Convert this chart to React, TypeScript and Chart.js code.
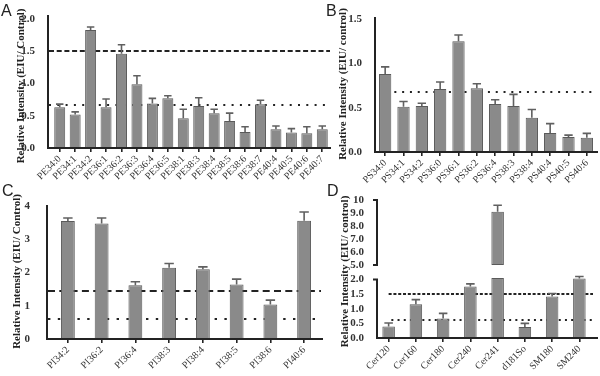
import React, { useEffect, useRef } from 'react';
import { Chart, registerables } from 'chart.js';

Chart.register(...registerables);

// ---------- Panel A : PE ----------
const PE_LABELS = ['PE34:0', 'PE34:1', 'PE34:2', 'PE36:1', 'PE36:2', 'PE36:3', 'PE36:4', 'PE36:5', 'PE38:1', 'PE38:3', 'PE38:4', 'PE38:5', 'PE38:6', 'PE38:7', 'PE40:4', 'PE40:5', 'PE40:6', 'PE40:7'];
const PE_VALUES = [0.63, 0.52, 1.83, 0.63, 1.46, 0.99, 0.69, 0.77, 0.46, 0.65, 0.54, 0.42, 0.25, 0.68, 0.29, 0.24, 0.23, 0.29];
const PE_ERRORS = [0.05, 0.04, 0.045, 0.13, 0.14, 0.13, 0.08, 0.04, 0.14, 0.13, 0.06, 0.12, 0.08, 0.06, 0.05, 0.06, 0.10, 0.05];
const PE_TICKS = [0, 0.5, 1, 1.5, 2];
const PE_UPPER_LINE = 1.5;
const PE_LOWER_LINE = 0.67;

// ---------- Panel B : PS ----------
const PS_LABELS = ['PS34:0', 'PS34:1', 'PS34:2', 'PS36:0', 'PS36:1', 'PS36:2', 'PS36:4', 'PS38:3', 'PS38:4', 'PS40:4', 'PS40:5', 'PS40:6'];
const PS_VALUES = [0.88, 0.51, 0.52, 0.71, 1.25, 0.72, 0.54, 0.52, 0.385, 0.215, 0.17, 0.16];
const PS_ERRORS = [0.08, 0.06, 0.03, 0.08, 0.07, 0.05, 0.05, 0.13, 0.095, 0.105, 0.02, 0.05];
const PS_TICKS = [0, 0.5, 1, 1.5];
const PS_LOWER_LINE = 0.68;

// ---------- Panel C : PI ----------
const PI_LABELS = ['PI34:2', 'PI36:2', 'PI36:4', 'PI38:3', 'PI38:4', 'PI38:5', 'PI38:6', 'PI40:6'];
const PI_VALUES = [3.55, 3.47, 1.62, 2.14, 2.10, 1.64, 1.04, 3.56];
const PI_ERRORS = [0.09, 0.17, 0.10, 0.13, 0.07, 0.16, 0.13, 0.26];
const PI_TICKS = [0, 1, 2, 3, 4];
const PI_UPPER_LINE = 1.44;
const PI_LOWER_LINE = 0.59;

// ---------- Panel D : sphingolipids (broken axis) ----------
const SL_LABELS = ['Cer120', 'Cer160', 'Cer180', 'Cer240', 'Cer241', 'd181So', 'SM180', 'SM240'];
const SL_VALUES = [0.39, 1.15, 0.67, 1.76, 9.1, 0.38, 1.42, 2.03];
const SL_ERRORS = [0.12, 0.16, 0.17, 0.09, 0.5, 0.12, 0.10, 0.07];
const SL_TICKS_LOW = [0, 0.5, 1, 1.5, 2];
const SL_TICKS_HIGH = [5, 6, 7, 8, 9, 10];
const SL_LOW_MAX = 2.05;
const SL_HIGH_MIN = 4;
const SL_HIGH_MAX = 10;
const SL_BREAK = 5;
const SL_UPPER_LINE = 1.52;
const SL_LOWER_LINE = 0.62;

const SERIF = "'Liberation Serif', 'Times New Roman', Times, serif";
const BAR_FILL = '#8a8a8a';
const BAR_EDGE = '#5a5a5a';
const ERR_COLOR = '#606060';
const INK = '#232323';

type LineSpec = { axis: string; value: number; dash: number[]; width: number; startIndex?: number };
type SegSpec = { axis: string; from: number; to: number | null; extend?: number; capTop?: boolean; capBottom?: boolean };
type YAxisSpec = { id: string; min: number; max: number; ticks: number[]; fmt: (v: number) => string; stackWeight?: number; weight?: number };

type PanelCfg = {
  x: number; y: number; w: number; h: number;
  area: { left: number; right: number; top: number; bottom: number };
  labels: string[];
  datasets: any[];
  yAxes: YAxisSpec[];
  tickPad: number;
  lines: LineSpec[];
  segs: SegSpec[];
  axisX: number;
  xEnd: number;
  title: string;
  titleX: number;
  titleY: number;
};

const barStyle = (pct: number) => ({
  backgroundColor: BAR_FILL,
  borderColor: BAR_EDGE,
  borderWidth: 1,
  barPercentage: pct,
  categoryPercentage: 1,
  grouped: false,
});

const fmt1 = (v: number) => v.toFixed(1);

function makeChart(canvas: HTMLCanvasElement, p: PanelCfg) {
  const plugin = {
    id: 'deco',
    beforeDatasetsDraw(chart: any) {
      const { ctx, chartArea } = chart;
      const xs = chart.scales.x;
      p.lines.forEach((ln) => {
        const sc = chart.scales[ln.axis];
        const y = Math.round(sc.getPixelForValue(ln.value));
        const x0 = ln.startIndex != null ? xs.getPixelForValue(ln.startIndex) : p.axisX + 1;
        ctx.save();
        ctx.strokeStyle = INK;
        ctx.lineWidth = ln.width;
        ctx.lineCap = 'butt';
        ctx.setLineDash(ln.dash);
        ctx.beginPath();
        ctx.moveTo(x0, y);
        ctx.lineTo(chartArea.right, y);
        ctx.stroke();
        ctx.restore();
      });
    },
    afterDatasetsDraw(chart: any) {
      const { ctx, chartArea } = chart;
      // error bars (upper half only)
      chart.data.datasets.forEach((ds: any, di: number) => {
        const errs = ds.errors as (number | null)[] | undefined;
        if (!errs) return;
        const meta = chart.getDatasetMeta(di);
        const sc = chart.scales[meta.yAxisID];
        meta.data.forEach((el: any, i: number) => {
          const e = errs[i];
          const raw = ds.data[i];
          if (e == null || raw == null) return;
          const top = Array.isArray(raw) ? raw[1] : raw;
          const yTop = sc.getPixelForValue(top);
          const yErr = sc.getPixelForValue(top + e);
          const half = el.width * 0.34;
          ctx.save();
          ctx.strokeStyle = ERR_COLOR;
          ctx.lineWidth = 1.6;
          ctx.beginPath();
          ctx.moveTo(el.x, yTop);
          ctx.lineTo(el.x, yErr);
          ctx.moveTo(el.x - half, yErr);
          ctx.lineTo(el.x + half, yErr);
          ctx.stroke();
          ctx.restore();
        });
      });
      // axis lines
      ctx.save();
      ctx.strokeStyle = INK;
      ctx.lineWidth = 2;
      ctx.setLineDash([]);
      ctx.beginPath();
      ctx.moveTo(p.axisX - 1, chartArea.bottom);
      ctx.lineTo(p.xEnd, chartArea.bottom);
      ctx.stroke();
      p.segs.forEach((sg) => {
        const sc = chart.scales[sg.axis];
        const yA = sc.getPixelForValue(sg.from) - (sg.extend || 0);
        const yB = sg.to == null ? chartArea.bottom : sc.getPixelForValue(sg.to);
        ctx.beginPath();
        ctx.moveTo(p.axisX, yA);
        ctx.lineTo(p.axisX, yB);
        if (sg.capTop) {
          ctx.moveTo(p.axisX - 4, yA);
          ctx.lineTo(p.axisX + 1, yA);
        }
        if (sg.capBottom) {
          ctx.moveTo(p.axisX - 4, yB);
          ctx.lineTo(p.axisX + 1, yB);
        }
        ctx.stroke();
      });
      ctx.restore();
      // y title
      ctx.save();
      ctx.translate(p.titleX, p.titleY);
      ctx.rotate(-Math.PI / 2);
      ctx.font = `bold 11px ${SERIF}`;
      ctx.fillStyle = '#222';
      ctx.textAlign = 'center';
      ctx.textBaseline = 'middle';
      ctx.fillText(p.title, 0, 0);
      ctx.restore();
    },
  };

  const scales: any = {
    x: {
      type: 'category',
      offset: true,
      grid: { display: true, drawOnChartArea: false, drawTicks: true, tickLength: 4, color: INK, lineWidth: 1.6, offset: false },
      border: { display: false },
      ticks: { font: { family: SERIF, size: 10 }, color: '#333', minRotation: 45, maxRotation: 45, autoSkip: false, padding: 1 },
      afterFit: (s: any) => { s.height = p.h - p.area.bottom; },
    },
  };
  p.yAxes.forEach((ax) => {
    scales[ax.id] = {
      type: 'linear',
      position: 'left',
      min: ax.min,
      max: ax.max,
      ...(ax.stackWeight ? { stack: 'broken', stackWeight: ax.stackWeight, weight: ax.weight } : {}),
      grid: { display: false },
      border: { display: false },
      ticks: {
        font: { family: SERIF, size: 11, weight: 'bold' },
        color: '#333',
        padding: p.tickPad,
        autoSkip: false,
        callback: (v: any) => ax.fmt(Number(v)),
      },
      afterBuildTicks: (s: any) => { s.ticks = ax.ticks.map((v) => ({ value: v })); },
      afterFit: (s: any) => { s.width = p.area.left; },
    };
  });

  return new Chart(canvas, {
    type: 'bar',
    data: { labels: p.labels, datasets: p.datasets },
    options: {
      responsive: false,
      animation: false,
      events: [],
      layout: { padding: { left: 0, top: p.area.top, right: p.w - p.area.right, bottom: 0 } },
      plugins: { legend: { display: false }, tooltip: { enabled: false } },
      scales,
    },
    plugins: [plugin],
  } as any);
}

const PANELS: PanelCfg[] = [
  {
    x: 0, y: 0, w: 340, h: 190,
    area: { left: 52, right: 330, top: 19, bottom: 148 },
    labels: PE_LABELS,
    datasets: [{ data: PE_VALUES, errors: PE_ERRORS, yAxisID: 'y', ...barStyle(0.71) }],
    yAxes: [{ id: 'y', min: 0, max: 2, ticks: PE_TICKS, fmt: fmt1 }],
    tickPad: 9,
    lines: [
      { axis: 'y', value: PE_UPPER_LINE, dash: [5, 2.7], width: 2 },
      { axis: 'y', value: PE_LOWER_LINE, dash: [2, 6.3], width: 2 },
    ],
    segs: [{ axis: 'y', from: 2, to: null, extend: 4 }],
    axisX: 48, xEnd: 331,
    title: 'Relative Intensity (EIU/ Control)', titleX: 21, titleY: 86,
  },
  {
    x: 300, y: 0, w: 300, h: 190,
    area: { left: 76, right: 296, top: 19, bottom: 152 },
    labels: PS_LABELS,
    datasets: [{ data: PS_VALUES, errors: PS_ERRORS, yAxisID: 'y', ...barStyle(0.67) }],
    yAxes: [{ id: 'y', min: 0, max: 1.5, ticks: PS_TICKS, fmt: fmt1 }],
    tickPad: 6,
    lines: [{ axis: 'y', value: PS_LOWER_LINE, dash: [2, 5.8], width: 2, startIndex: 0.5 }],
    segs: [{ axis: 'y', from: 1.5, to: null, extend: 2 }],
    axisX: 75, xEnd: 298,
    title: 'Relative Intensity (EIU/ control)', titleX: 43.5, titleY: 84,
  },
  {
    x: 0, y: 185, w: 340, h: 191,
    area: { left: 51, right: 321, top: 21, bottom: 154 },
    labels: PI_LABELS,
    datasets: [{ data: PI_VALUES, errors: PI_ERRORS, yAxisID: 'y', ...barStyle(0.41) }],
    yAxes: [{ id: 'y', min: 0, max: 4, ticks: PI_TICKS, fmt: (v: number) => String(v) }],
    tickPad: 13,
    lines: [
      { axis: 'y', value: PI_UPPER_LINE, dash: [7, 4.3], width: 2 },
      { axis: 'y', value: PI_LOWER_LINE, dash: [2.4, 7.4], width: 2 },
    ],
    segs: [{ axis: 'y', from: 4, to: null, extend: 1 }],
    axisX: 47, xEnd: 323,
    title: 'Relative Intensity (EIU/ Control)', titleX: 17.5, titleY: 86.5,
  },
  {
    x: 300, y: 185, w: 300, h: 191,
    area: { left: 75, right: 293, top: 15, bottom: 153 },
    labels: SL_LABELS,
    datasets: [
      {
        data: SL_VALUES.map((v) => Math.min(v, SL_LOW_MAX)),
        errors: SL_ERRORS.map((e, i) => (SL_VALUES[i] > SL_LOW_MAX ? null : e)),
        yAxisID: 'yLow',
        ...barStyle(0.46),
      },
      {
        data: SL_VALUES.map((v) => (v > SL_LOW_MAX ? [SL_BREAK, v] : null)),
        errors: SL_ERRORS.map((e, i) => (SL_VALUES[i] > SL_LOW_MAX ? e : null)),
        yAxisID: 'yHigh',
        borderSkipped: false,
        ...barStyle(0.46),
      },
    ],
    yAxes: [
      { id: 'yHigh', min: SL_HIGH_MIN, max: SL_HIGH_MAX, ticks: SL_TICKS_HIGH, fmt: (v: number) => (v === 10 ? '10' : v.toFixed(1)), stackWeight: 78, weight: 2 },
      { id: 'yLow', min: 0, max: SL_LOW_MAX, ticks: SL_TICKS_LOW, fmt: fmt1, stackWeight: 60, weight: 1 },
    ],
    tickPad: 3,
    lines: [
      { axis: 'yLow', value: SL_UPPER_LINE, dash: [3, 1.8], width: 2, startIndex: 0 },
      { axis: 'yLow', value: SL_LOWER_LINE, dash: [2, 4.2], width: 2, startIndex: 0.1 },
    ],
    segs: [
      { axis: 'yHigh', from: 10, to: 5, capTop: true, capBottom: true },
      { axis: 'yLow', from: 2, to: null, capTop: true },
    ],
    axisX: 77, xEnd: 298,
    title: 'Relative Intensity (EIU/ control)', titleX: 45, titleY: 86.5,
  },
];

const LETTERS = [
  { text: 'A', x: 1, y: 3 },
  { text: 'B', x: 326, y: 3 },
  { text: 'C', x: 2, y: 183 },
  { text: 'D', x: 327, y: 183 },
];

function Panel({ cfg }: { cfg: PanelCfg }) {
  const ref = useRef<HTMLCanvasElement | null>(null);
  useEffect(() => {
    if (!ref.current) return;
    const chart = makeChart(ref.current, cfg);
    return () => chart.destroy();
  }, [cfg]);
  return (
    <canvas
      ref={ref}
      width={cfg.w}
      height={cfg.h}
      style={{ position: 'absolute', left: cfg.x, top: cfg.y, width: cfg.w, height: cfg.h }}
    />
  );
}

export default function App() {
  return (
    <div style={{ position: 'absolute', left: 0, top: 0, width: 600, height: 376, background: '#fff', overflow: 'hidden' }}>
      {PANELS.map((p, i) => (
        <Panel key={i} cfg={p} />
      ))}
      {LETTERS.map((l) => (
        <div
          key={l.text}
          style={{
            position: 'absolute',
            left: l.x,
            top: l.y,
            fontFamily: "'Liberation Sans Narrow', 'Liberation Sans', sans-serif",
            fontStretch: 'condensed',
            fontSize: 16,
            lineHeight: '16px',
            color: '#222',
          }}
        >
          {l.text}
        </div>
      ))}
    </div>
  );
}
